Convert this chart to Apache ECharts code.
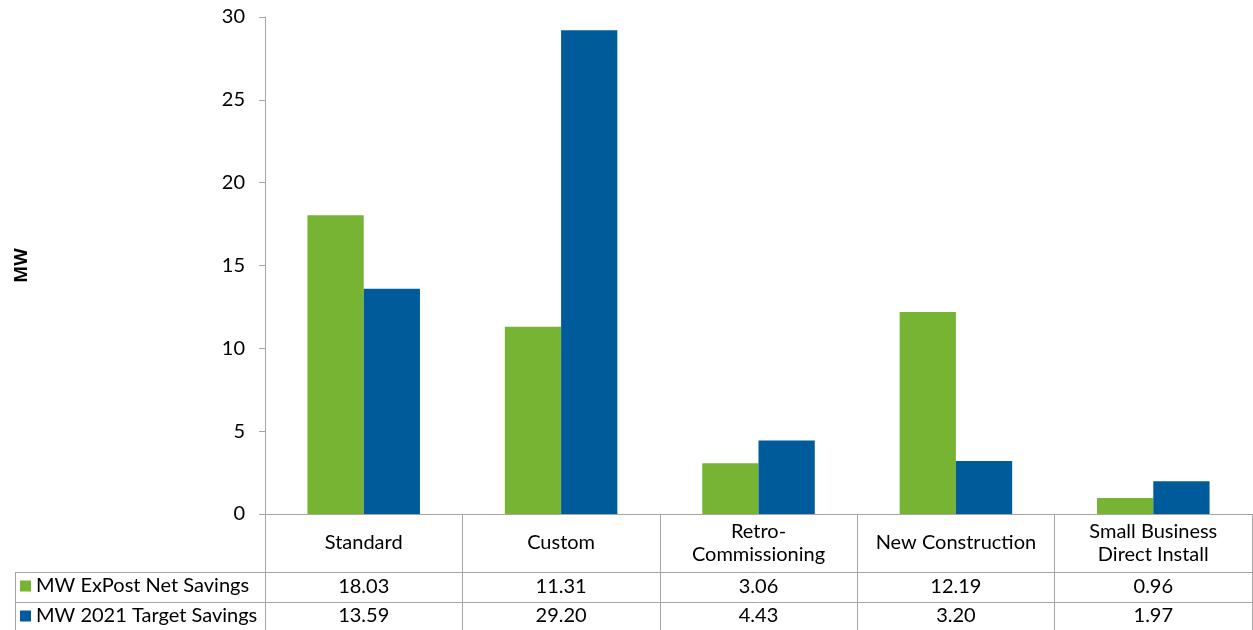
<!DOCTYPE html>
<html><head><meta charset="utf-8">
<script src="https://cdn.jsdelivr.net/npm/echarts@6/dist/echarts.min.js"></script>
<style>html,body{margin:0;padding:0;background:#fff}#c{width:1253px;height:630px}</style>
</head><body><div id="c"></div>
<script>
const categories = ['Standard', 'Custom', 'Retro-\nCommissioning', 'New Construction', 'Small Business\nDirect Install'];
const seriesNames = ['MW ExPost Net Savings', 'MW 2021 Target Savings'];
const expostNet = [18.03, 11.31, 3.06, 12.19, 0.96];
const target2021 = [13.59, 29.20, 4.43, 3.20, 1.97];
const yTicks = [0, 5, 10, 15, 20, 25, 30];

const FONT = 'Lato, "Noto Sans", sans-serif';
const GRAY = '#A6A6A6';
const GREEN = '#77B434';
const BLUE = '#005B9B';

const chart = echarts.init(document.getElementById('c'), null, {renderer: 'canvas'});
const fmt = v => v.toFixed(2);
const legendText = {fontFamily: FONT, fontSize: 20, color: '#000'};

chart.setOption({
  animation: false,
  textStyle: {fontFamily: FONT},
  grid: {left: 265, right: 1, top: 17, bottom: 116, containLabel: false},
  legend: [
    {orient: 'horizontal', left: 20, top: 576, itemWidth: 11, itemHeight: 11, padding: 0,
     icon: 'rect', data: [seriesNames[0]], textStyle: legendText},
    {orient: 'horizontal', left: 20, top: 606, itemWidth: 11, itemHeight: 11, padding: 0,
     icon: 'rect', data: [seriesNames[1]], textStyle: legendText}
  ],
  xAxis: [
    {type: 'category', data: categories, position: 'bottom',
     axisLine: {lineStyle: {color: GRAY, width: 1}},
     axisTick: {show: true, length: 58, lineStyle: {color: GRAY}},
     axisLabel: {fontFamily: FONT, fontSize: 20, color: '#000', margin: 29, verticalAlign: 'middle', lineHeight: 23, interval: 0}},
    {type: 'category', data: expostNet.map(fmt), position: 'bottom', offset: 58,
     axisLine: {lineStyle: {color: GRAY, width: 1}},
     axisTick: {show: true, length: 30, lineStyle: {color: GRAY}},
     axisLabel: {fontFamily: FONT, fontSize: 20, color: '#000', margin: 15, verticalAlign: 'middle', interval: 0}},
    {type: 'category', data: target2021.map(fmt), position: 'bottom', offset: 88,
     axisLine: {lineStyle: {color: GRAY, width: 1}},
     axisTick: {show: true, length: 28, lineStyle: {color: GRAY}},
     axisLabel: {fontFamily: FONT, fontSize: 20, color: '#000', margin: 14, verticalAlign: 'middle', interval: 0}}
  ],
  yAxis: {
    type: 'value', min: yTicks[0], max: yTicks[yTicks.length - 1], interval: 5,
    name: 'MW', nameLocation: 'middle', nameGap: 234, nameRotate: 90,
    nameTextStyle: {fontFamily: '"Open Sans", "DejaVu Sans", sans-serif', fontSize: 18, fontWeight: 'bold', color: '#000'},
    axisLine: {show: true, lineStyle: {color: GRAY, width: 1}},
    axisTick: {show: true, length: 6, lineStyle: {color: GRAY}},
    axisLabel: {fontFamily: FONT, fontSize: 20, color: '#000', margin: 20},
    splitLine: {show: false}
  },
  series: [
    {name: seriesNames[0], type: 'bar', data: expostNet, xAxisIndex: 0, itemStyle: {color: GREEN}, barGap: '0%', barCategoryGap: '43%'},
    {name: seriesNames[1], type: 'bar', data: target2021, xAxisIndex: 0, itemStyle: {color: BLUE}, barGap: '0%', barCategoryGap: '43%'}
  ],
  graphic: [
    {type: 'line', shape: {x1: 15, y1: 572.5, x2: 265, y2: 572.5}, style: {stroke: GRAY, lineWidth: 1}},
    {type: 'line', shape: {x1: 15, y1: 602.5, x2: 265, y2: 602.5}, style: {stroke: GRAY, lineWidth: 1}},
    {type: 'line', shape: {x1: 15.5, y1: 572, x2: 15.5, y2: 630}, style: {stroke: GRAY, lineWidth: 1}}
  ]
});
</script></body></html>
